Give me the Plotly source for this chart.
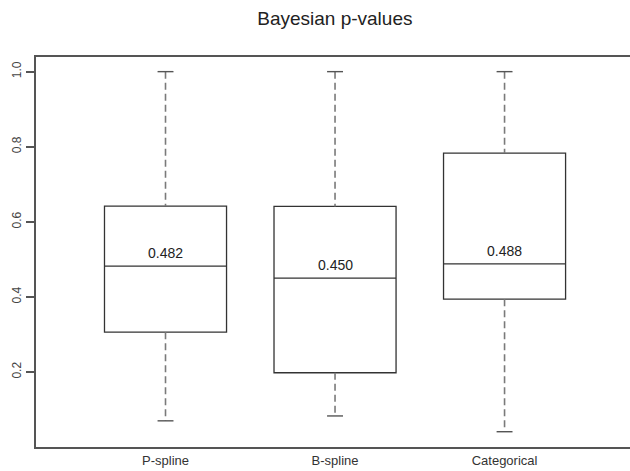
import plotly.graph_objects as go

categories = ["P-spline", "B-spline", "Categorical"]
minimum = [0.070, 0.083, 0.041]
q1 = [0.306, 0.198, 0.394]
median = [0.482, 0.450, 0.488]
q3 = [0.642, 0.641, 0.783]
maximum = [1.000, 1.000, 1.000]
median_labels = ["0.482", "0.450", "0.488"]
y_ticks = [0.2, 0.4, 0.6, 0.8, 1.0]
y_ticktext = ["0.2", "0.4", "0.6", "0.8", "1.0"]

xpos = [i + 1 for i in range(len(categories))]
BOX_W = 0.72
CAP_HALF = 0.047
FONT = "Liberation Sans, Arial, sans-serif"

fig = go.Figure()

# dashed whiskers
wx, wy = [], []
for x, lo, a, b, hi in zip(xpos, minimum, q1, q3, maximum):
    wx += [x, x, None, x, x, None]
    wy += [hi, b, None, a, lo, None]
fig.add_trace(go.Scatter(x=wx, y=wy, mode="lines",
                         line=dict(color="#7a7a7a", width=1.6, dash="7px,4px"),
                         hoverinfo="skip", showlegend=False))
# staples
cx, cy = [], []
for x, lo, hi in zip(xpos, minimum, maximum):
    cx += [x - CAP_HALF, x + CAP_HALF, None, x - CAP_HALF, x + CAP_HALF, None]
    cy += [hi, hi, None, lo, lo, None]
fig.add_trace(go.Scatter(x=cx, y=cy, mode="lines",
                         line=dict(color="#555555", width=1.4),
                         hoverinfo="skip", showlegend=False))

# boxes
fig.add_trace(go.Box(x=xpos, q1=q1, median=median, q3=q3,
                     lowerfence=q1, upperfence=q3,
                     width=BOX_W, whiskerwidth=0,
                     fillcolor="rgba(255,255,255,0)",
                     line=dict(color="#333333", width=1.3),
                     boxpoints=False, hoverinfo="skip", showlegend=False))

for x, m, lab in zip(xpos, median, median_labels):
    fig.add_annotation(x=x, y=m, text=lab, showarrow=False,
                       yanchor="bottom", yshift=3,
                       font=dict(family=FONT, size=14, color="#222222"))

fig.update_layout(
    width=630, height=471,
    margin=dict(l=36, r=0, t=57, b=24, autoexpand=False),
    paper_bgcolor="white", plot_bgcolor="white",
    title=dict(text="Bayesian p-values", x=0.5315, xanchor="center",
               y=1 - 18 / 471, yanchor="middle",
               font=dict(family=FONT, size=19, color="#222222")),
    showlegend=False,
    xaxis=dict(range=[0.236, 3.740], tickvals=xpos, ticktext=categories,
               showline=True, mirror=True, linecolor="#555555", linewidth=2,
               ticks="", showgrid=False, zeroline=False, automargin=False,
               ticklabelstandoff=0,
               tickfont=dict(family=FONT, size=13, color="#333333")),
    yaxis=dict(range=[0.0003, 1.039], tickvals=y_ticks, ticktext=y_ticktext,
               showline=True, linecolor="#555555", linewidth=2,
               ticks="outside", ticklen=8, tickcolor="#555555", tickwidth=1.5,
               tickangle=-90, showgrid=False, zeroline=False, automargin=False,
               tickfont=dict(family=FONT, size=12, color="#444444")),
)

fig.write_html("out.html", config={"displayModeBar": False},
               post_script="document.body.style.margin='0';document.body.style.overflow='hidden';")
